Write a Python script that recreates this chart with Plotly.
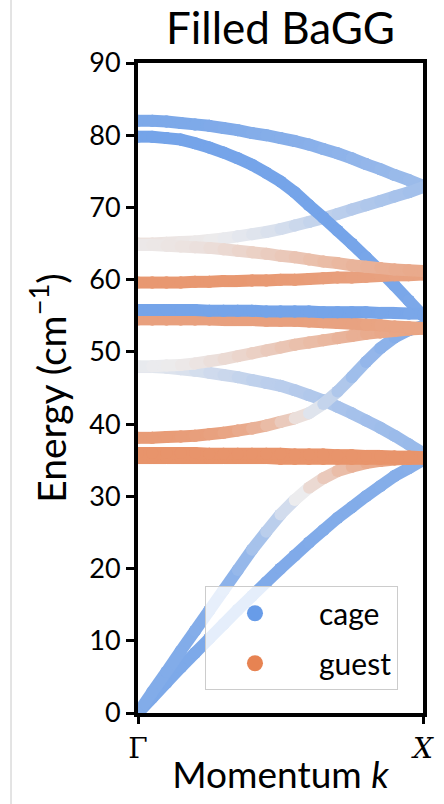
import plotly.graph_objects as go

# ---------------- data ----------------
K = [0.00, 0.05, 0.10, 0.15, 0.20, 0.25, 0.30, 0.35, 0.40, 0.45, 0.50,
     0.55, 0.60, 0.65, 0.70, 0.75, 0.80, 0.85, 0.90, 0.95, 1.00]

# energies (cm^-1) of each band along Gamma -> X
band_A = [82.0, 82.0, 81.9, 81.7, 81.5, 81.3, 81.0, 80.7, 80.3, 80.0, 79.6,
          79.2, 78.7, 78.1, 77.5, 76.8, 76.0, 75.3, 74.5, 73.8, 73.0]
band_B = [79.8, 79.8, 79.6, 79.4, 78.9, 78.3, 77.6, 76.8, 75.9, 74.8, 73.6,
          72.1, 70.3, 68.6, 66.8, 65.0, 63.1, 61.2, 59.2, 57.1, 55.0]
band_C = [65.0, 65.0, 65.1, 65.2, 65.3, 65.5, 65.7, 66.0, 66.3, 66.6, 67.0,
          67.5, 68.0, 68.5, 69.1, 69.7, 70.3, 70.9, 71.5, 72.1, 72.8]
band_D = [64.8, 64.8, 64.7, 64.6, 64.5, 64.4, 64.2, 64.0, 63.8, 63.6, 63.3,
          63.1, 62.8, 62.5, 62.3, 62.0, 61.8, 61.6, 61.4, 61.3, 61.2]
band_E = [59.6, 59.6, 59.6, 59.6, 59.7, 59.7, 59.8, 59.8, 59.9, 59.9, 60.0,
          60.0, 60.1, 60.2, 60.3, 60.3, 60.4, 60.5, 60.6, 60.6, 60.7]
band_F = [55.8, 55.8, 55.8, 55.8, 55.8, 55.7, 55.7, 55.7, 55.7, 55.6, 55.6,
          55.6, 55.6, 55.5, 55.5, 55.5, 55.5, 55.4, 55.4, 55.3, 55.3]
band_G = [54.5, 54.5, 54.5, 54.5, 54.5, 54.5, 54.4, 54.4, 54.4, 54.3, 54.3,
          54.3, 54.2, 54.1, 54.0, 53.9, 53.8, 53.7, 53.5, 53.4, 53.3]
band_H = [48.0, 48.0, 48.1, 48.2, 48.4, 48.7, 49.0, 49.4, 49.8, 50.2, 50.6,
          51.0, 51.3, 51.6, 51.9, 52.2, 52.5, 52.7, 52.9, 53.1, 53.2]
band_I = [47.9, 47.9, 47.8, 47.6, 47.4, 47.1, 46.8, 46.5, 46.1, 45.7, 45.3,
          44.7, 44.0, 43.3, 42.4, 41.5, 40.5, 39.5, 38.4, 37.2, 36.0]
band_J = [38.1, 38.1, 38.2, 38.3, 38.4, 38.6, 38.8, 39.1, 39.4, 39.8, 40.3,
          40.8, 41.5, 42.8, 44.5, 46.5, 48.6, 50.5, 52.0, 53.0, 53.6]
band_K1 = [36.0, 36.0, 36.0, 36.0, 36.0, 35.9, 35.9, 35.9, 35.9, 35.9, 35.9,
           35.8, 35.8, 35.8, 35.7, 35.7, 35.6, 35.6, 35.5, 35.5, 35.4]
band_K2 = [35.3, 35.3, 35.3, 35.3, 35.3, 35.3, 35.3, 35.3, 35.3, 35.3, 35.2,
           35.2, 35.2, 35.2, 35.2, 35.2, 35.2, 35.2, 35.2, 35.2, 35.2]
band_L = [0.0, 2.9, 5.7, 8.6, 11.4, 14.2, 17.0, 19.8, 22.6, 25.1, 27.5,
          29.5, 31.2, 32.5, 33.5, 34.1, 34.6, 34.9, 35.1, 35.2, 35.3]
band_M = [0.0, 2.1, 4.2, 6.3, 8.3, 10.3, 12.3, 14.3, 16.2, 18.1, 20.0,
          21.8, 23.6, 25.3, 27.0, 28.5, 30.0, 31.4, 32.8, 33.9, 35.0]

# guest character of each band point (0 = cage, 1 = guest)
guest_A = [0.08, 0.08, 0.08, 0.08, 0.08, 0.09, 0.09, 0.10, 0.10, 0.11, 0.11,
           0.12, 0.12, 0.13, 0.14, 0.15, 0.16, 0.17, 0.18, 0.19, 0.20]
guest_B = [0.05, 0.05, 0.05, 0.05, 0.05, 0.05, 0.05, 0.05, 0.05, 0.05, 0.05,
           0.05, 0.05, 0.05, 0.05, 0.05, 0.06, 0.06, 0.07, 0.07, 0.08]
guest_C = [0.55, 0.55, 0.54, 0.53, 0.52, 0.51, 0.50, 0.48, 0.46, 0.44, 0.42,
           0.39, 0.36, 0.34, 0.32, 0.30, 0.28, 0.26, 0.25, 0.23, 0.22]
guest_D = [0.52, 0.52, 0.53, 0.54, 0.55, 0.56, 0.58, 0.60, 0.62, 0.64, 0.66,
           0.68, 0.70, 0.72, 0.74, 0.76, 0.77, 0.79, 0.80, 0.81, 0.82]
guest_E = [0.90, 0.90, 0.90, 0.90, 0.90, 0.90, 0.90, 0.90, 0.90, 0.89, 0.89,
           0.88, 0.88, 0.87, 0.87, 0.86, 0.86, 0.86, 0.85, 0.85, 0.85]
guest_F = [0.05, 0.05, 0.05, 0.05, 0.05, 0.05, 0.05, 0.05, 0.05, 0.05, 0.05,
           0.05, 0.05, 0.05, 0.05, 0.05, 0.05, 0.06, 0.06, 0.07, 0.07]
guest_G = [0.86, 0.86, 0.86, 0.86, 0.86, 0.86, 0.86, 0.86, 0.86, 0.86, 0.86,
           0.86, 0.86, 0.85, 0.85, 0.85, 0.85, 0.84, 0.84, 0.84, 0.84]
guest_H = [0.48, 0.49, 0.50, 0.51, 0.53, 0.55, 0.57, 0.60, 0.62, 0.65, 0.67,
           0.70, 0.72, 0.74, 0.76, 0.78, 0.80, 0.82, 0.83, 0.84, 0.85]
guest_I = [0.47, 0.46, 0.45, 0.44, 0.42, 0.40, 0.38, 0.36, 0.34, 0.32, 0.31,
           0.30, 0.28, 0.27, 0.25, 0.24, 0.22, 0.21, 0.20, 0.19, 0.18]
guest_J = [0.88, 0.88, 0.88, 0.88, 0.87, 0.86, 0.85, 0.83, 0.80, 0.76, 0.70,
           0.62, 0.50, 0.40, 0.30, 0.24, 0.18, 0.15, 0.12, 0.11, 0.10]
guest_K1 = [0.92, 0.92, 0.92, 0.92, 0.92, 0.92, 0.92, 0.92, 0.92, 0.92, 0.92,
            0.92, 0.92, 0.92, 0.92, 0.92, 0.92, 0.92, 0.92, 0.92, 0.92]
guest_K2 = [0.92, 0.92, 0.92, 0.92, 0.92, 0.92, 0.92, 0.92, 0.92, 0.92, 0.92,
            0.92, 0.92, 0.92, 0.92, 0.92, 0.92, 0.92, 0.92, 0.92, 0.92]
guest_L = [0.10, 0.10, 0.10, 0.10, 0.10, 0.11, 0.12, 0.15, 0.20, 0.27, 0.35,
           0.45, 0.55, 0.63, 0.70, 0.75, 0.80, 0.83, 0.85, 0.87, 0.88]
guest_M = [0.08, 0.08, 0.08, 0.08, 0.08, 0.08, 0.08, 0.08, 0.08, 0.09, 0.09,
           0.09, 0.09, 0.10, 0.10, 0.10, 0.10, 0.11, 0.11, 0.12, 0.12]

bands = [
    (band_M, guest_M), (band_L, guest_L), (band_I, guest_I), (band_J, guest_J),
    (band_K2, guest_K2), (band_K1, guest_K1), (band_H, guest_H),
    (band_A, guest_A), (band_C, guest_C), (band_B, guest_B),
    (band_G, guest_G), (band_F, guest_F), (band_E, guest_E), (band_D, guest_D),
]

legend_names = ["cage", "guest"]
x_ticks = [0, 1]
x_ticktext = ["Γ", "<i>X</i>"]

# ---------------- styling ----------------
BLUE = (104, 156, 232)
MID = (236, 236, 238)
ORANGE = (231, 131, 82)


def mix(c1, c2, t):
    return tuple(round(a + (b - a) * t) for a, b in zip(c1, c2))


def frac_color(f):
    if f <= 0.5:
        c = mix(BLUE, MID, f / 0.5)
    else:
        c = mix(MID, ORANGE, (f - 0.5) / 0.5)
    return "rgb(%d,%d,%d)" % c


LW = 12
fig = go.Figure()
for energies, guest in bands:
    for i in range(len(K) - 1):
        f = 0.5 * (guest[i] + guest[i + 1])
        col = frac_color(f)
        fig.add_trace(go.Scatter(
            x=K[i:i + 2], y=energies[i:i + 2], mode="lines+markers",
            line=dict(color=col, width=LW),
            marker=dict(color=col, size=LW, line=dict(width=0)),
            showlegend=False, hoverinfo="skip"))

for name, col in zip(legend_names, ["rgb(104,156,232)", "rgb(231,131,82)"]):
    fig.add_trace(go.Scatter(x=[None], y=[None], mode="markers",
                             name="\u2002" + name, legendgroup=name,
                             marker=dict(color=col, size=22)))

FONT = "Lato"
fig.update_layout(
    width=444, height=804,
    margin=dict(l=138, r=21, t=63, b=91, autoexpand=False),
    paper_bgcolor="white", plot_bgcolor="white",
    font=dict(family=FONT, color="black"),
    title=dict(text="Filled BaGG", x=0.5, xref="paper", xanchor="center",
               y=1 - 29 / 804, yanchor="middle",
               font=dict(size=44, family=FONT, color="black")),
    xaxis=dict(range=[0, 1], tickvals=x_ticks, ticktext=x_ticktext,
               ticks="outside", ticklen=7, tickwidth=3, tickcolor="black",
               showline=True, linewidth=4, linecolor="black", mirror=True,
               showgrid=False, zeroline=False,
               tickfont=dict(size=28, family="DejaVu Serif"),
               title=dict(text="Momentum <i>k</i>", font=dict(size=37, family=FONT),
                          standoff=0)),
    yaxis=dict(range=[0, 90], dtick=10, tick0=0,
               ticks="outside", ticklen=8, tickwidth=3, tickcolor="black",
               showline=True, linewidth=4, linecolor="black", mirror=True,
               showgrid=False, zeroline=False,
               tickfont=dict(size=27, family=FONT),
               title=dict(text="Energy (cm<sup>−1</sup>)", font=dict(size=39, family=FONT),
                          standoff=12)),
    legend=dict(x=0.235, y=0.195, xanchor="left", yanchor="top",
                bgcolor="rgba(255,255,255,0.8)", bordercolor="rgb(204,204,204)",
                borderwidth=1, font=dict(size=30, family=FONT),
                itemwidth=88, tracegroupgap=8),
    shapes=[dict(type="line", xref="paper", yref="paper",
                 x0=(11 - 138) / 285, x1=(11 - 138) / 285,
                 y0=-91 / 650, y1=713 / 650,
                 line=dict(color="rgb(200,200,200)", width=1))],
)

fig.write_html("out.html")
